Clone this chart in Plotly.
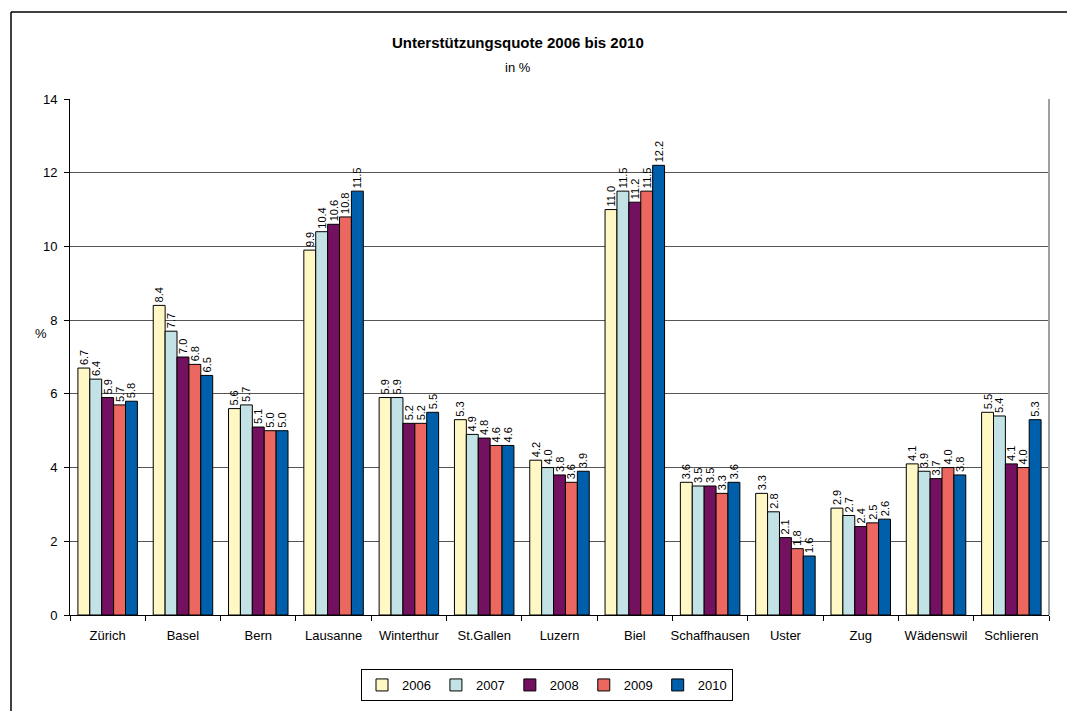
import plotly.graph_objects as go

cities = ["Zürich", "Basel", "Bern", "Lausanne", "Winterthur", "St.Gallen", "Luzern",
          "Biel", "Schaffhausen", "Uster", "Zug", "Wädenswil", "Schlieren"]
years = ["2006", "2007", "2008", "2009", "2010"]
v2006 = [6.7, 8.4, 5.6, 9.9, 5.9, 5.3, 4.2, 11.0, 3.6, 3.3, 2.9, 4.1, 5.5]
v2007 = [6.4, 7.7, 5.7, 10.4, 5.9, 4.9, 4.0, 11.5, 3.5, 2.8, 2.7, 3.9, 5.4]
v2008 = [5.9, 7.0, 5.1, 10.6, 5.2, 4.8, 3.8, 11.2, 3.5, 2.1, 2.4, 3.7, 4.1]
v2009 = [5.7, 6.8, 5.0, 10.8, 5.2, 4.6, 3.6, 11.5, 3.3, 1.8, 2.5, 4.0, 4.0]
v2010 = [5.8, 6.5, 5.0, 11.5, 5.5, 4.6, 3.9, 12.2, 3.6, 1.6, 2.6, 3.8, 5.3]
series = [v2006, v2007, v2008, v2009, v2010]
colors = ["#FFF8C4", "#C2E2E5", "#73105F", "#EB675F", "#005FAB"]

FONT = "Arial, Liberation Sans, sans-serif"

W, H = 1067, 703
L, R, T, B = 62, 26, 91, 96
pw, ph = W - L - R, H - T - B

def px_x(x):  # figure-pixel -> paper
    return (x - L) / pw

def px_y(y):
    return (H - B - y) / ph

fig = go.Figure()
for y, vals, c in zip(years, series, colors):
    fig.add_trace(go.Bar(
        x=cities, y=vals, name=y,
        marker=dict(color=c, line=dict(color="black", width=1)),
        text=[f"{v:.1f}" for v in vals], textposition="outside",
        textangle=-90, constraintext="none", cliponaxis=False,
        textfont=dict(family=FONT, size=11, color="black"),
    ))

fig.update_layout(
    width=W, height=H,
    paper_bgcolor="white", plot_bgcolor="white",
    margin=dict(l=L, r=R, t=T, b=B, autoexpand=False),
    barmode="group", bargap=0.21, bargroupgap=0,
    font=dict(family=FONT, size=12, color="black"),
    showlegend=True,
    legend=dict(orientation="h", x=px_x(539), xanchor="center", y=px_y(661), yanchor="top",
                bordercolor="black", borderwidth=1, font=dict(size=13),
                itemwidth=30, traceorder="normal"),
    annotations=[
        dict(text="<b>Unterstützungsquote 2006 bis 2010</b>", xref="paper", yref="paper",
             x=px_x(510), y=px_y(34), xanchor="center", yanchor="middle", showarrow=False,
             font=dict(size=15, family=FONT)),
        dict(text="in %", xref="paper", yref="paper", x=px_x(510), y=px_y(60),
             xanchor="center", yanchor="middle", showarrow=False, font=dict(size=13, family=FONT)),
        dict(text="%", xref="paper", yref="paper", x=px_x(33), y=px_y(325),
             xanchor="center", yanchor="middle", showarrow=False, font=dict(size=13, family=FONT)),
    ],
    shapes=[
        dict(type="line", xref="paper", yref="paper", x0=px_x(3), x1=px_x(W + 10), y0=px_y(4), y1=px_y(4),
             line=dict(color="black", width=1.5)),
        dict(type="line", xref="paper", yref="paper", x0=px_x(3), x1=px_x(3), y0=px_y(4), y1=px_y(H + 10),
             line=dict(color="black", width=1.5)),
        dict(type="line", xref="paper", yref="paper", x0=1, x1=1, y0=0, y1=1,
             line=dict(color="#A0A0A0", width=2)),
    ],
)
fig.update_xaxes(type="category", tickson="boundaries", ticks="outside", ticklen=5,
                 tickcolor="black", showline=True, linecolor="black", linewidth=1,
                 showgrid=False, tickfont=dict(size=13), tickangle=0, automargin=False,
                 ticklabelstandoff=8)
fig.update_yaxes(range=[0, 14], dtick=2, ticks="outside", ticklen=5, tickcolor="black",
                 showline=True, linecolor="black", linewidth=1,
                 showgrid=True, gridcolor="#555555", gridwidth=1,
                 tickfont=dict(size=13), zeroline=False, automargin=False,
                 ticklabelstandoff=4)

fig.write_html("out.html")
